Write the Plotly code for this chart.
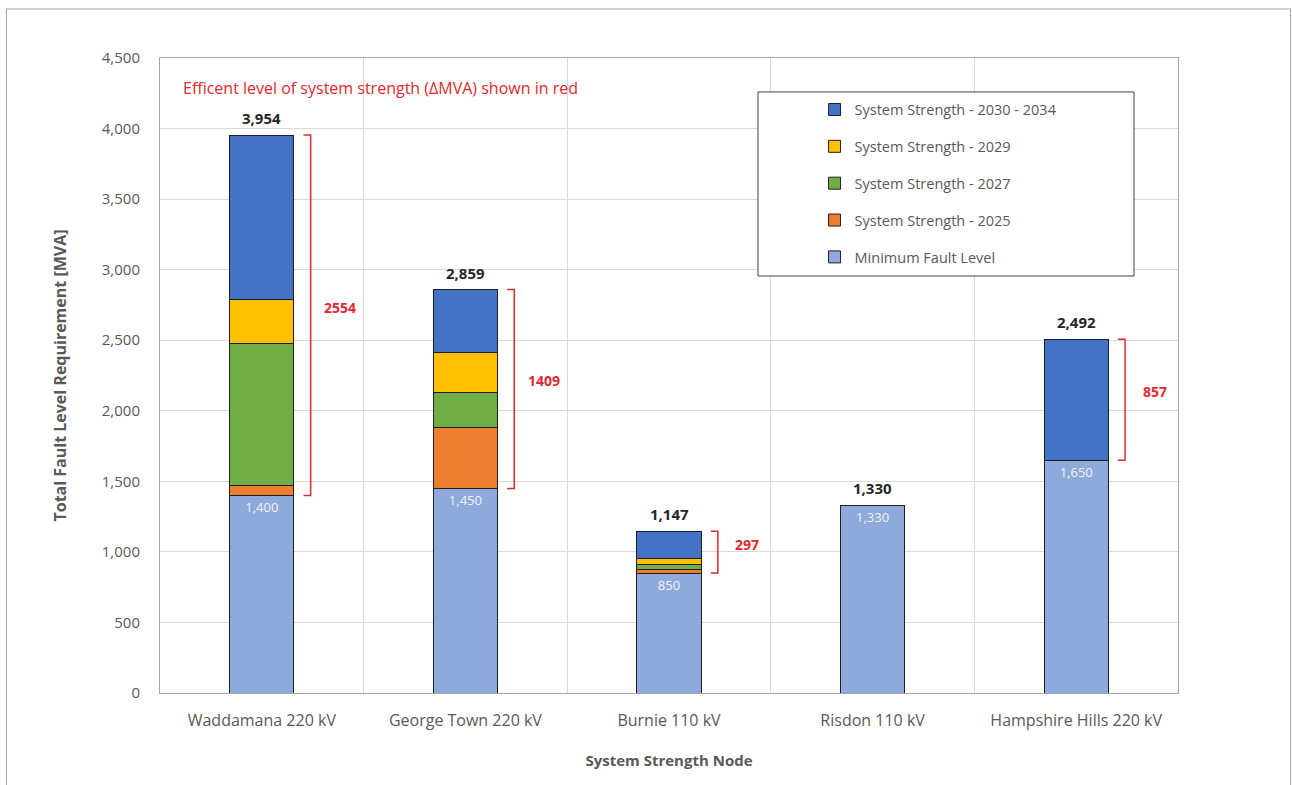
import plotly.graph_objects as go

categories = ["Waddamana 220 kV", "George Town 220 kV", "Burnie 110 kV",
              "Risdon 110 kV", "Hampshire Hills 220 kV"]
min_fault = [1400, 1450, 850, 1330, 1650]
ss_2025 = [74, 428, 22, None, None]
ss_2027 = [1006, 255, 40, None, None]
ss_2029 = [312, 277, 42, None, None]
ss_2030_2034 = [1162, 449, 193, None, 857]
total_labels = [3954, 2859, 1147, 1330, 2492]
delta_mva = [2554, 1409, 297, None, 857]

series = [
    ("Minimum Fault Level", min_fault, "#8eaadb"),
    ("System Strength - 2025", ss_2025, "#ed7d31"),
    ("System Strength - 2027", ss_2027, "#70ad47"),
    ("System Strength - 2029", ss_2029, "#ffc000"),
    ("System Strength - 2030 - 2034", ss_2030_2034, "#4472c4"),
]

FONT = "Open Sans"
GREY = "#595959"
RED = "#e0282e"
xs = list(range(len(categories)))
BAR_W = 0.315

fig = go.Figure()
for k, (name, vals, col) in enumerate(series):
    kw = {}
    if k == 0:
        kw = dict(texttemplate="%{y:,}", textposition="inside",
                  insidetextanchor="end",
                  textfont=dict(family=FONT, size=13, color="#f2f2f2"))
    fig.add_trace(go.Bar(
        x=xs, y=vals, name=name, width=BAR_W,
        marker=dict(color=col, line=dict(color="#1f1f1f", width=1)),
        legendgroup=name, legendrank=100 - k, hoverinfo="skip", **kw))

annotations = []
shapes = []
for i in xs:
    top = min_fault[i] + sum((s[1][i] or 0) for s in series[1:])
    annotations.append(dict(
        x=i, y=top, xref="x", yref="y", text=f"<b>{total_labels[i]:,}</b>",
        showarrow=False, yanchor="bottom", yshift=5,
        font=dict(family=FONT, size=15, color="#262626")))
    d = delta_mva[i]
    if d is not None:
        y0 = min_fault[i]
        y1 = min_fault[i] + d
        xa, xb = i + 0.205, i + 0.24
        shapes.append(dict(
            type="path", xref="x", yref="y",
            path=f"M {xa},{y0} L {xb},{y0} L {xb},{y1} L {xa},{y1}",
            line=dict(color=RED, width=1.5)))
        annotations.append(dict(
            x=i + 0.385, y=(y0 + y1) / 2, xref="x", yref="y",
            text=f"<b>{d}</b>", showarrow=False, yshift=8,
            font=dict(family=FONT, size=14, color=RED)))

annotations.append(dict(
    x=0.021, y=0.953, xref="paper", yref="paper", xanchor="left",
    yanchor="middle", showarrow=False,
    text="Efficent level of system strength (ΔMVA) shown in red",
    font=dict(family=FONT, size=16, color=RED)))

# legend frame
shapes.append(dict(type="rect", xref="paper", yref="paper",
                   x0=0.5874, x1=0.9568, y0=0.6567, y1=0.9465,
                   fillcolor="white", line=dict(color="#404040", width=1),
                   layer="above"))
# outer chart frame
shapes.append(dict(type="rect", xref="paper", yref="paper",
                   x0=-0.1508, x1=1.1105, y0=-0.3, y1=1.0772,
                   line=dict(color="#a6a6a6", width=1), layer="below"))

fig.update_layout(
    barmode="stack",
    width=1292, height=785,
    margin=dict(l=160, r=114, t=58, b=92),
    paper_bgcolor="white", plot_bgcolor="white",
    font=dict(family=FONT, color=GREY),
    showlegend=True,
    legend=dict(x=0.643, y=0.944, xanchor="left", yanchor="top",
                traceorder="grouped", tracegroupgap=15,
                bgcolor="rgba(0,0,0,0)", borderwidth=0,
                font=dict(family=FONT, size=14.5, color=GREY)),
    annotations=annotations,
    shapes=shapes,
    xaxis=dict(
        tickmode="array", tickvals=xs, ticktext=categories,
        range=[-0.5, len(categories) - 0.5],
        showgrid=False, zeroline=False,
        showline=True, mirror=True, linecolor="#a6a6a6", linewidth=1,
        ticks="", ticklabelstandoff=13,
        tickfont=dict(family=FONT, size=16, color=GREY),
        minor=dict(tickvals=[i + 0.5 for i in xs[:-1]], showgrid=True,
                   gridcolor="#d9d9d9", gridwidth=1),
        title=dict(text="<b>System Strength Node</b>", standoff=25,
                   font=dict(family=FONT, size=15, color=GREY)),
    ),
    yaxis=dict(
        range=[0, 4500], dtick=500, tickformat=",",
        showgrid=True, gridcolor="#d9d9d9", gridwidth=1, zeroline=False,
        showline=True, mirror=True, linecolor="#a6a6a6", linewidth=1,
        ticks="", ticklabelstandoff=16,
        tickfont=dict(family=FONT, size=15, color=GREY),
        title=dict(text="<b>Total Fault Level Requirement [MVA]</b>",
                   standoff=31,
                   font=dict(family=FONT, size=16, color=GREY)),
    ),
)

fig.write_html("out.html")
